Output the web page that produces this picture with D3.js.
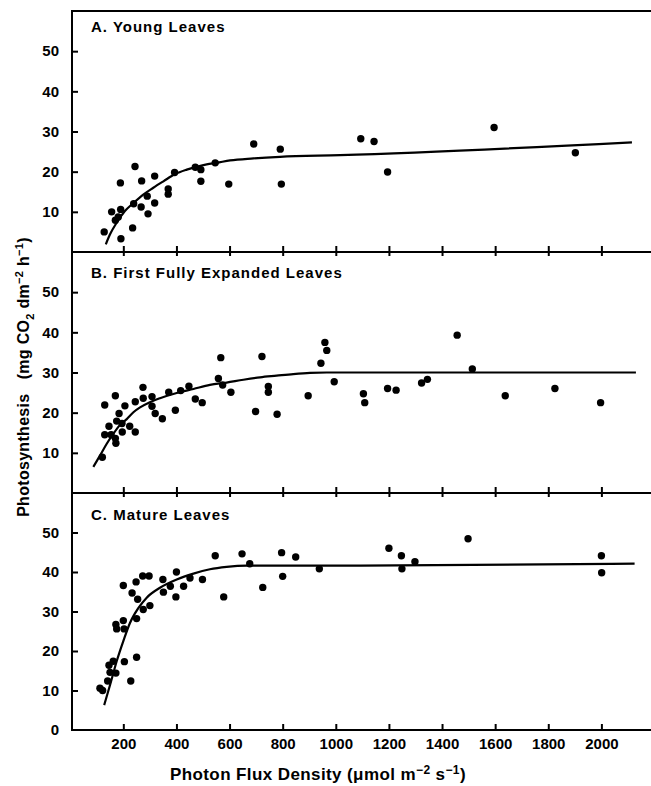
<!DOCTYPE html>
<html>
  <head>
    <meta charset="utf-8" />
    <title>Photosynthesis vs Photon Flux Density</title>
    <script src="https://d3js.org/d3.v7.min.js"></script>
    <style>
      body {
        margin: 0;
        background: #fff;
      }
      svg {
        font-family: "Liberation Sans", Arial, Helvetica, sans-serif;
        font-weight: bold;
      }
      .tick line {
        stroke: #000;
        stroke-width: 2;
      }
      .tick text {
        font-size: 15px;
        font-weight: bold;
        fill: #000;
      }
      .frame {
        stroke: #000;
        stroke-width: 2;
        fill: none;
      }
      .fit {
        fill: none;
        stroke: #000;
        stroke-width: 2.2;
      }
    </style>
  </head>
  <body>
    <div id="chart"></div>
    <script>
      // tick values
      const xTicks = [200, 400, 600, 800, 1000, 1200, 1400, 1600, 1800, 2000];
      const yTicks = [10, 20, 30, 40, 50];

      // panel titles
      const titles = ["A. Young Leaves", "B. First Fully Expanded Leaves", "C. Mature Leaves"];

      // A. young leaves: [PFD, photosynthesis]
      const youngPts = [
        [128, 5.0], [156, 10.0], [191, 3.3], [170, 7.9], [181, 8.7], [190, 10.6],
        [189, 17.2], [235, 6.0], [239, 12.0], [244, 21.3], [267, 11.2], [269, 17.7],
        [290, 13.9], [293, 9.5], [318, 12.2], [318, 18.9], [369, 15.7], [369, 14.4],
        [393, 19.8], [471, 21.1], [492, 20.5], [492, 17.6], [546, 22.2], [597, 16.9],
        [691, 26.9], [791, 25.6], [795, 16.9], [1094, 28.2], [1144, 27.5], [1195, 19.9],
        [1596, 31.0], [1902, 24.7]
      ];
      const youngCurve = [
        [134, 1.9], [150, 4.4], [175, 7.3], [206, 10.2], [238, 12.2], [275, 14.3],
        [313, 16.0], [351, 17.6], [395, 19.4], [439, 20.5], [476, 21.2], [514, 21.8],
        [552, 22.2], [602, 22.8], [690, 23.3], [790, 23.7], [1016, 24.1], [2115, 27.3]
      ];

      // B. first fully expanded leaves
      const firstPts = [
        [121, 8.9], [130, 21.9], [130, 14.5], [146, 16.6], [154, 14.5], [170, 24.2],
        [170, 13.6], [172, 12.4], [175, 17.9], [184, 19.8], [195, 17.3], [196, 15.2],
        [206, 21.7], [224, 16.6], [245, 15.2], [245, 22.7], [274, 26.3], [275, 23.6],
        [308, 24.0], [308, 21.6], [320, 19.8], [347, 18.5], [371, 25.1], [396, 20.6],
        [416, 25.5], [447, 26.6], [471, 23.4], [497, 22.5], [558, 28.5], [567, 33.7],
        [574, 26.9], [605, 25.1], [698, 20.3], [722, 34.0], [746, 26.5], [746, 25.1],
        [779, 19.6], [896, 24.2], [944, 32.3], [959, 37.5], [966, 35.5], [994, 27.7],
        [1104, 24.7], [1109, 22.5], [1195, 26.0], [1227, 25.6], [1323, 27.4], [1345, 28.3],
        [1457, 39.3], [1514, 30.9], [1638, 24.2], [1825, 26.0], [1997, 22.5]
      ];
      const firstCurve = [
        [87, 6.5], [112, 9.3], [137, 12.2], [162, 14.7], [187, 16.9], [213, 18.4],
        [238, 20.1], [263, 21.3], [300, 22.6], [338, 23.6], [401, 24.9], [464, 25.9],
        [526, 26.9], [589, 27.5], [652, 28.2], [715, 28.8], [777, 29.2], [840, 29.6],
        [903, 29.9], [966, 30.0], [1100, 30.0], [2130, 30.0]
      ];

      // C. mature leaves
      const maturePts = [
        [112, 10.6], [122, 10.0], [141, 12.4], [146, 16.4], [150, 14.6], [162, 17.4],
        [172, 14.4], [172, 26.7], [175, 25.6], [200, 36.6], [200, 27.7], [203, 25.6],
        [204, 17.3], [228, 12.4], [233, 34.7], [248, 37.5], [250, 28.2], [250, 18.4],
        [254, 33.1], [273, 39.0], [275, 30.5], [297, 39.0], [300, 31.5], [349, 38.1],
        [351, 34.9], [377, 36.4], [398, 33.7], [400, 40.0], [427, 36.4], [451, 38.5],
        [498, 38.1], [546, 44.1], [578, 33.7], [647, 44.6], [676, 42.1], [725, 36.1],
        [796, 44.9], [800, 38.9], [849, 43.8], [938, 40.8], [1200, 46.0], [1247, 44.1],
        [1249, 40.8], [1298, 42.6], [1498, 48.4], [2000, 44.1], [2001, 39.8]
      ];
      const matureCurve = [
        [128, 6.3], [150, 11.4], [175, 17.4], [200, 22.5], [225, 27.1], [257, 30.9],
        [288, 33.5], [338, 36.0], [401, 38.1], [464, 39.6], [526, 40.7], [589, 41.3],
        [665, 41.6], [1091, 41.6], [2125, 42.1]
      ];

      const width = 651;
      const height = 786;
      const axisX = 72;
      const panelTop = [11, 252, 493];
      const panelBottom = [252, 493, 730];
      const titleOffset = [21, 26, 27];

      const svg = d3
        .select("#chart")
        .append("svg")
        .attr("width", width)
        .attr("height", height);

      const x = d3.scaleLinear().domain([0, 2183]).range([70.2, 650]);

      const panels = [
        { pts: youngPts, curve: youngCurve },
        { pts: firstPts, curve: firstCurve },
        { pts: maturePts, curve: matureCurve }
      ];

      panels.forEach((p, i) => {
        const y = d3.scaleLinear().domain([0, 60]).range([panelBottom[i], panelTop[i]]);
        const g = svg.append("g");

        // bottom ticks (inward), labels only on last panel
        const xAxis = d3
          .axisBottom(x)
          .tickValues(xTicks)
          .tickSizeInner(-6)
          .tickSizeOuter(0)
          .tickPadding(8)
          .tickFormat(i === 2 ? d3.format("d") : "");
        g.append("g")
          .attr("transform", `translate(0,${panelBottom[i]})`)
          .call(xAxis)
          .call((s) => s.select(".domain").remove());

        // top ticks for lower panels
        if (i > 0) {
          g.append("g")
            .attr("transform", `translate(0,${panelTop[i]})`)
            .call(d3.axisTop(x).tickValues(xTicks).tickSizeInner(-4).tickSizeOuter(0).tickFormat(""))
            .call((s) => s.select(".domain").remove());
        }

        // y axis
        const yAxis = d3
          .axisLeft(y)
          .tickValues(i === 2 ? [0].concat(yTicks) : yTicks)
          .tickSizeInner(-6)
          .tickSizeOuter(0)
          .tickPadding(13)
          .tickFormat(d3.format("d"));
        g.append("g")
          .attr("transform", `translate(${axisX},0)`)
          .call(yAxis)
          .call((s) => s.select(".domain").remove())
          .call((s) => s.selectAll(".tick line").filter((d) => d === 0).remove());

        // fitted curve
        const line = d3
          .line()
          .x((d) => x(d[0]))
          .y((d) => y(d[1]))
          .curve(d3.curveMonotoneX);
        g.append("path").datum(p.curve).attr("class", "fit").attr("d", line);

        // data points
        g.selectAll("circle")
          .data(p.pts)
          .join("circle")
          .attr("cx", (d) => x(d[0]))
          .attr("cy", (d) => y(d[1]))
          .attr("r", 3.7)
          .attr("fill", "#000");

        // panel title
        g.append("text")
          .attr("x", 91)
          .attr("y", panelTop[i] + titleOffset[i])
          .attr("font-size", "15px")
          .attr("letter-spacing", "1px")
          .text(titles[i]);

        // horizontal frame line
        svg.append("line")
          .attr("class", "frame")
          .attr("x1", axisX)
          .attr("x2", width)
          .attr("y1", panelTop[i])
          .attr("y2", panelTop[i]);
      });

      svg.append("line")
        .attr("class", "frame")
        .attr("x1", axisX)
        .attr("x2", width)
        .attr("y1", panelBottom[2])
        .attr("y2", panelBottom[2]);

      svg.append("line")
        .attr("class", "frame")
        .attr("x1", axisX)
        .attr("x2", axisX)
        .attr("y1", panelTop[0] - 1)
        .attr("y2", panelBottom[2] + 1);

      // x axis title
      const xt = svg
        .append("text")
        .attr("x", 318)
        .attr("y", 780)
        .attr("text-anchor", "middle")
        .attr("font-size", "17px")
        .attr("letter-spacing", "0.4px");
      xt.append("tspan").text("Photon Flux Density (\u03bcmol m");
      xt.append("tspan").attr("dy", -6).attr("font-size", "12px").text("\u22122");
      xt.append("tspan").attr("dy", 6).text(" s");
      xt.append("tspan").attr("dy", -6).attr("font-size", "12px").text("\u22121");
      xt.append("tspan").attr("dy", 6).text(")");

      // y axis title
      const yt = svg
        .append("text")
        .attr("transform", "translate(29,377) rotate(-90)")
        .attr("text-anchor", "middle")
        .attr("font-size", "16px")
        .attr("letter-spacing", "0.3px");
      yt.append("tspan").text("Photosynthesis\u00a0\u00a0\u00a0(mg CO");
      yt.append("tspan").attr("dy", 5).attr("font-size", "11px").text("2");
      yt.append("tspan").attr("dy", -5).text(" dm");
      yt.append("tspan").attr("dy", -6).attr("font-size", "11px").text("\u22122");
      yt.append("tspan").attr("dy", 6).text(" h");
      yt.append("tspan").attr("dy", -6).attr("font-size", "11px").text("\u22121");
      yt.append("tspan").attr("dy", 6).text(")");
    </script>
  </body>
</html>
